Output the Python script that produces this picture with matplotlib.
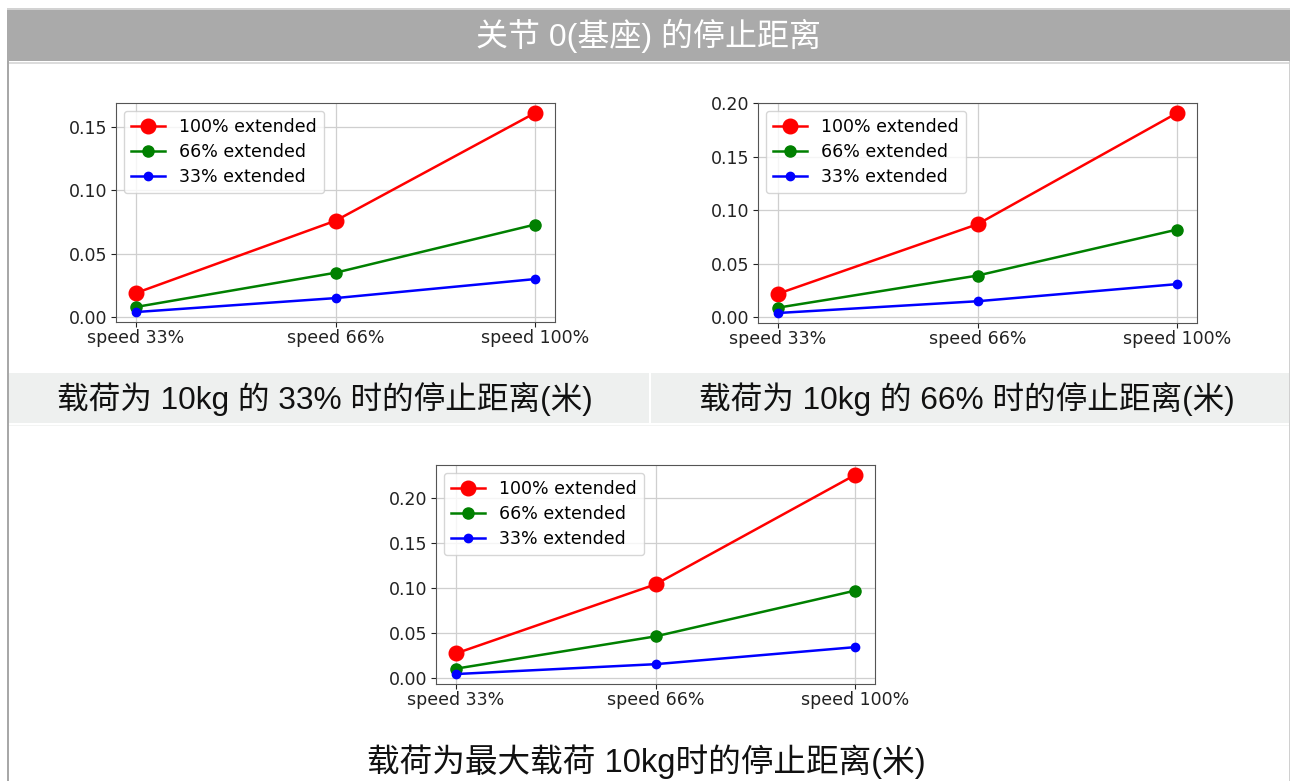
import matplotlib
matplotlib.use("Agg")
import matplotlib.pyplot as plt
from matplotlib.patches import Rectangle

# ---------------- data ----------------
categories = ["speed 33%", "speed 66%", "speed 100%"]
series_labels = ["100% extended", "66% extended", "33% extended"]

load33_ext100 = [0.019, 0.076, 0.161]
load33_ext66 = [0.008, 0.035, 0.073]
load33_ext33 = [0.004, 0.015, 0.030]

load66_ext100 = [0.022, 0.087, 0.191]
load66_ext66 = [0.009, 0.039, 0.082]
load66_ext33 = [0.004, 0.015, 0.031]

loadmax_ext100 = [0.027, 0.104, 0.226]
loadmax_ext66 = [0.010, 0.046, 0.097]
loadmax_ext33 = [0.004, 0.015, 0.034]

title_text = "关节 0(基座) 的停止距离"
caption1 = "载荷为 10kg 的 33% 时的停止距离(米)"
caption2 = "载荷为 10kg 的 66% 时的停止距离(米)"
caption3 = "载荷为最大载荷 10kg时的停止距离(米)"

# ---------------- layout ----------------
W, H = 1290, 781
fig = plt.figure(figsize=(W / 100, H / 100), dpi=100)
fig.patch.set_facecolor("white")


def frect(l, t, r, b):
    return (l / W, 1 - b / H, (r - l) / W, (b - t) / H)


def add_box(l, t, r, b, color, z=0):
    x, y, w, h = frect(l, t, r, b)
    fig.patches.append(Rectangle((x, y), w, h, transform=fig.transFigure,
                                 facecolor=color, edgecolor="none", zorder=z))


# header
add_box(7, 8.5, W, 9.5, "#d2d2d2")
add_box(7, 10, W, 61, "#aaaaaa")
add_box(9, 62.5, W, 63.5, "#dcdcdc")
# left / right borders
add_box(7, 61, 9, H, "#a8a8a8")
add_box(1288.5, 61, 1289.5, H, "#d0d0d0")
# caption bands
add_box(9, 373, 649, 423, "#eef0ef")
add_box(651, 373, 1289, 423, "#eef0ef")
add_box(9, 424.5, 1289, 425.5, "#f3f4f3")

cjk = ["Liberation Sans", "Noto Sans CJK SC"]
fig.text(648 / W, 1 - 36 / H, title_text, color="white", fontsize=23,
         family=cjk, ha="center", va="center")
fig.text(325 / W, 1 - 399 / H, caption1, color="#111111", fontsize=22.8,
         family=cjk, ha="center", va="center")
fig.text(967 / W, 1 - 399 / H, caption2, color="#111111", fontsize=22.8,
         family=cjk, ha="center", va="center")
fig.text(646 / W, 1 - 762 / H, caption3, color="#111111", fontsize=23.5,
         family=cjk, ha="center", va="center")

styles = [("red", 10.5), ("green", 8), ("blue", 6)]


def draw_chart(rect, series):
    ax = fig.add_axes(frect(*rect))
    for vals, lab, (col, ms) in zip(series, series_labels, styles):
        ax.plot(categories, vals, color=col, marker="o", markersize=ms,
                linewidth=1.8, label=lab)
    ax.grid(True, color="#cfcfcf", linewidth=0.9)
    ax.set_axisbelow(True)
    ax.tick_params(labelsize=12.5, colors="#222222")
    ax.tick_params(axis="x", pad=1.5)
    ax.tick_params(axis="y", pad=2.5)
    for sp in ax.spines.values():
        sp.set_color("#555555")
    ax.legend(loc="upper left", fontsize=12.5, framealpha=0.8,
              labelspacing=0.42, borderaxespad=0.45)
    return ax


draw_chart((116, 103, 555, 322), [load33_ext100, load33_ext66, load33_ext33])
draw_chart((758, 103, 1197, 323), [load66_ext100, load66_ext66, load66_ext33])
draw_chart((436, 465, 875, 684), [loadmax_ext100, loadmax_ext66, loadmax_ext33])

fig.savefig("out.png", dpi=100)
